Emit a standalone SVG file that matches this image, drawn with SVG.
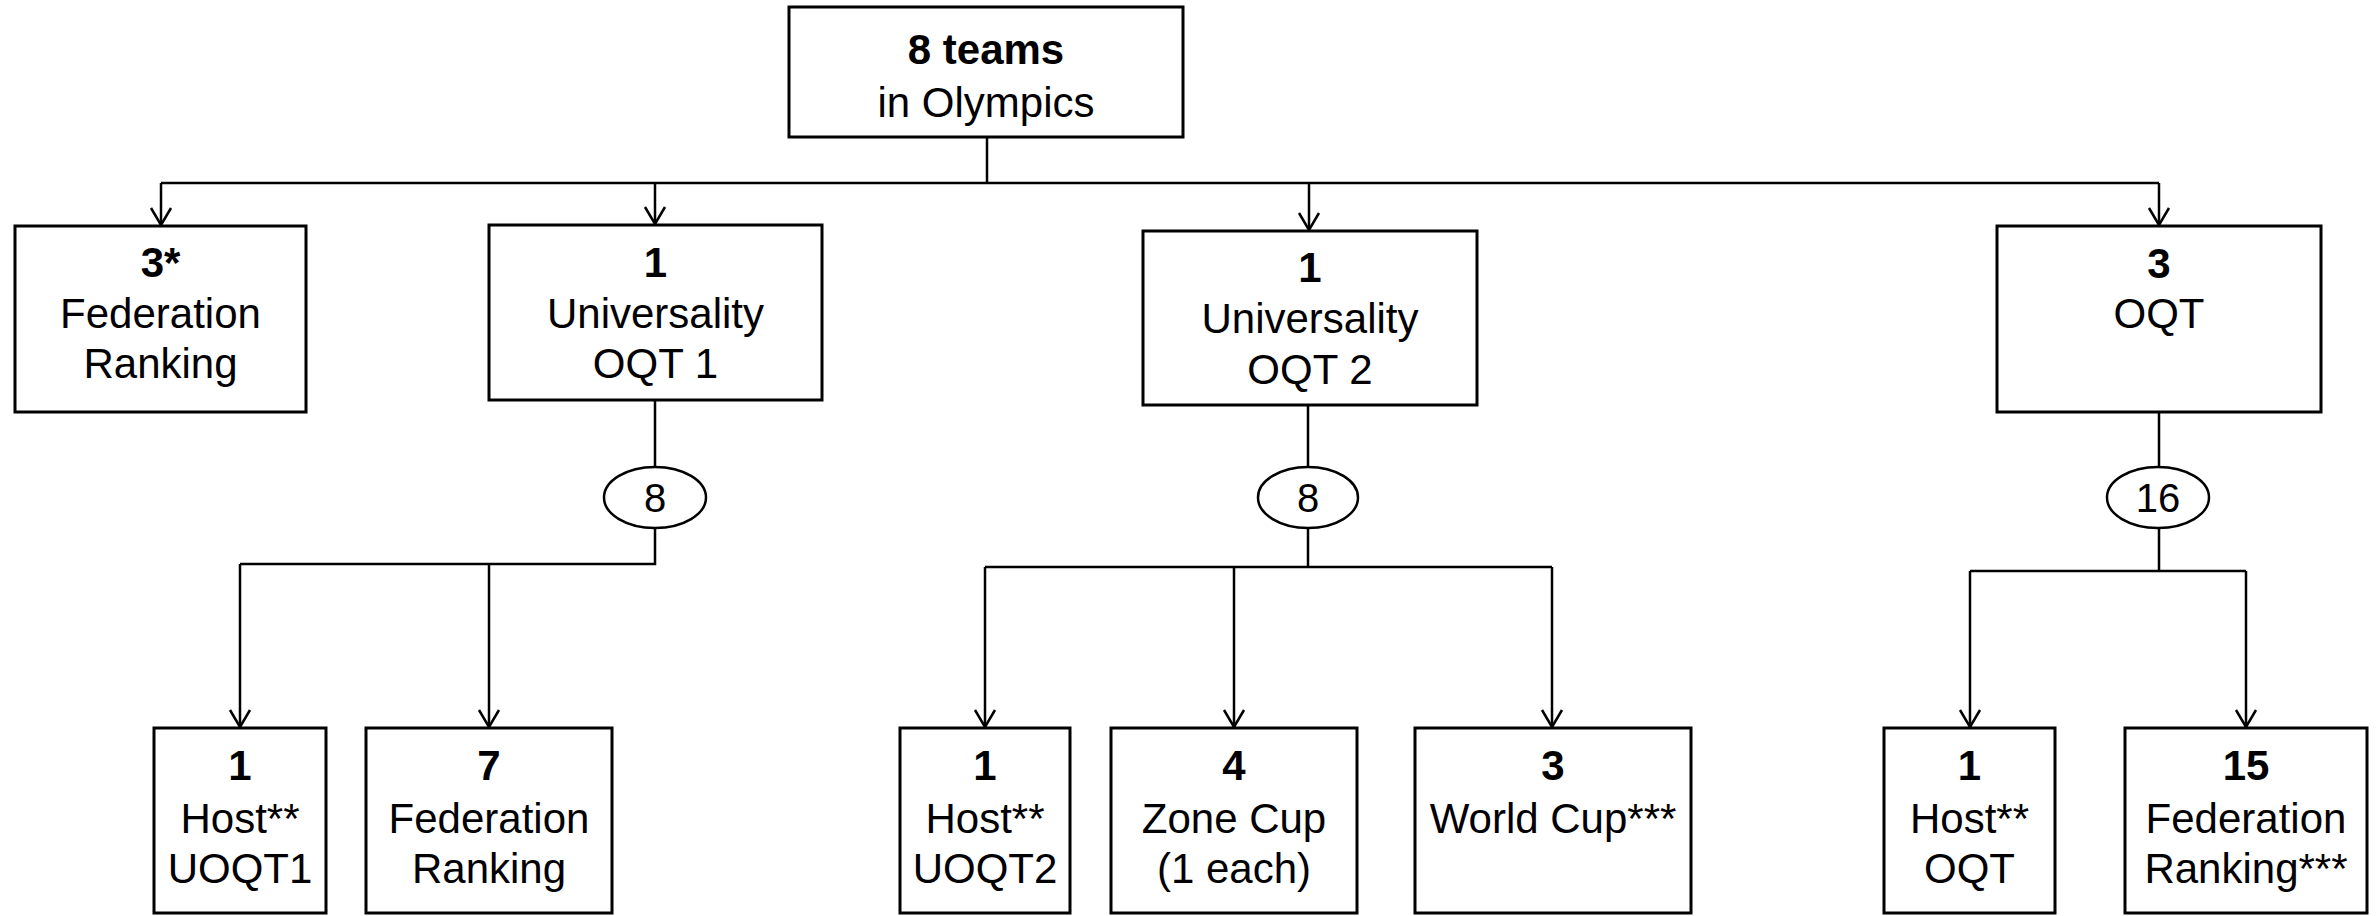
<svg xmlns="http://www.w3.org/2000/svg" width="2376" height="916" viewBox="0 0 2376 916">
<style>
.box{fill:#fff;stroke:#000;stroke-width:3}
.ell{fill:#fff;stroke:#000;stroke-width:2.5}
.t{font-family:"Liberation Sans",Arial,sans-serif;font-size:42px;fill:#000;text-anchor:middle}
.b{font-weight:bold}
.n{font-family:"Liberation Sans",Arial,sans-serif;font-size:40px;fill:#000;text-anchor:middle}
.c{fill:none;stroke:#000;stroke-width:2.5}
.a{fill:none;stroke:#000;stroke-width:2.5;marker-end:url(#arr)}
</style>
<defs>
<marker id="arr" viewBox="-20 -12 22 24" refX="0" refY="0" markerWidth="22" markerHeight="24" markerUnits="userSpaceOnUse" orient="auto">
<path d="M-17,-10 L0,0 L-17,10" fill="none" stroke="#000" stroke-width="2.5"/>
</marker>
</defs>
<g id="connectors">
<path class="c" d="M987,137 V183 M161,183 H2159"/>
<path class="a" d="M161,183 V225"/>
<path class="a" d="M655,183 V224"/>
<path class="a" d="M1309,183 V230"/>
<path class="a" d="M2159,183 V225"/>
<path class="c" d="M655,400 V467 M655,528 V564 H240"/>
<path class="a" d="M240,564 V727"/>
<path class="a" d="M489,564 V727"/>
<path class="c" d="M1308,405 V467 M1308,528 V567 M985,567 H1552"/>
<path class="a" d="M985,567 V727"/>
<path class="a" d="M1234,567 V727"/>
<path class="a" d="M1552,567 V727"/>
<path class="c" d="M2159,412 V467 M2159,528 V571 M1970,571 H2246"/>
<path class="a" d="M1970,571 V727"/>
<path class="a" d="M2246,571 V727"/>
</g>
<g id="top">
<rect class="box" x="789" y="7" width="394" height="130"/>
<text class="t b" x="986" y="64">8 teams</text>
<text class="t" x="986" y="117">in Olympics</text>
</g>
<g id="fed3">
<rect class="box" x="15" y="226" width="291" height="186"/>
<text class="t b" x="160.5" y="277">3*</text>
<text class="t" x="160.5" y="328">Federation</text>
<text class="t" x="160.5" y="378">Ranking</text>
</g>
<g id="uoqt1">
<rect class="box" x="489" y="225" width="333" height="175"/>
<text class="t b" x="655.5" y="277">1</text>
<text class="t" x="655.5" y="328">Universality</text>
<text class="t" x="655.5" y="378">OQT 1</text>
</g>
<g id="uoqt2">
<rect class="box" x="1143" y="231" width="334" height="174"/>
<text class="t b" x="1310" y="282">1</text>
<text class="t" x="1310" y="333">Universality</text>
<text class="t" x="1310" y="384">OQT 2</text>
</g>
<g id="oqt">
<rect class="box" x="1997" y="226" width="324" height="186"/>
<text class="t b" x="2159" y="278">3</text>
<text class="t" x="2159" y="328">OQT</text>
</g>
<g id="e1">
<ellipse class="ell" cx="655" cy="497.5" rx="51" ry="30.5"/>
<text class="n" x="655" y="512">8</text>
</g>
<g id="e2">
<ellipse class="ell" cx="1308" cy="497.5" rx="50" ry="30.5"/>
<text class="n" x="1308" y="512">8</text>
</g>
<g id="e3">
<ellipse class="ell" cx="2158" cy="497.5" rx="51" ry="30.5"/>
<text class="n" x="2158" y="512">16</text>
</g>
<g id="host1">
<rect class="box" x="154" y="728" width="172" height="185"/>
<text class="t b" x="240" y="780">1</text>
<text class="t" x="240" y="833">Host**</text>
<text class="t" x="240" y="883">UOQT1</text>
</g>
<g id="fed7">
<rect class="box" x="366" y="728" width="246" height="185"/>
<text class="t b" x="489" y="780">7</text>
<text class="t" x="489" y="833">Federation</text>
<text class="t" x="489" y="883">Ranking</text>
</g>
<g id="host2">
<rect class="box" x="900" y="728" width="170" height="185"/>
<text class="t b" x="985" y="780">1</text>
<text class="t" x="985" y="833">Host**</text>
<text class="t" x="985" y="883">UOQT2</text>
</g>
<g id="zone">
<rect class="box" x="1111" y="728" width="246" height="185"/>
<text class="t b" x="1234" y="780">4</text>
<text class="t" x="1234" y="833">Zone Cup</text>
<text class="t" x="1234" y="883">(1 each)</text>
</g>
<g id="wc">
<rect class="box" x="1415" y="728" width="276" height="185"/>
<text class="t b" x="1553" y="780">3</text>
<text class="t" x="1553" y="833">World Cup***</text>
</g>
<g id="host3">
<rect class="box" x="1884" y="728" width="171" height="185"/>
<text class="t b" x="1969.5" y="780">1</text>
<text class="t" x="1969.5" y="833">Host**</text>
<text class="t" x="1969.5" y="883">OQT</text>
</g>
<g id="fed15">
<rect class="box" x="2125" y="728" width="242" height="185"/>
<text class="t b" x="2246" y="780">15</text>
<text class="t" x="2246" y="833">Federation</text>
<text class="t" x="2246" y="883">Ranking***</text>
</g>
</svg>
